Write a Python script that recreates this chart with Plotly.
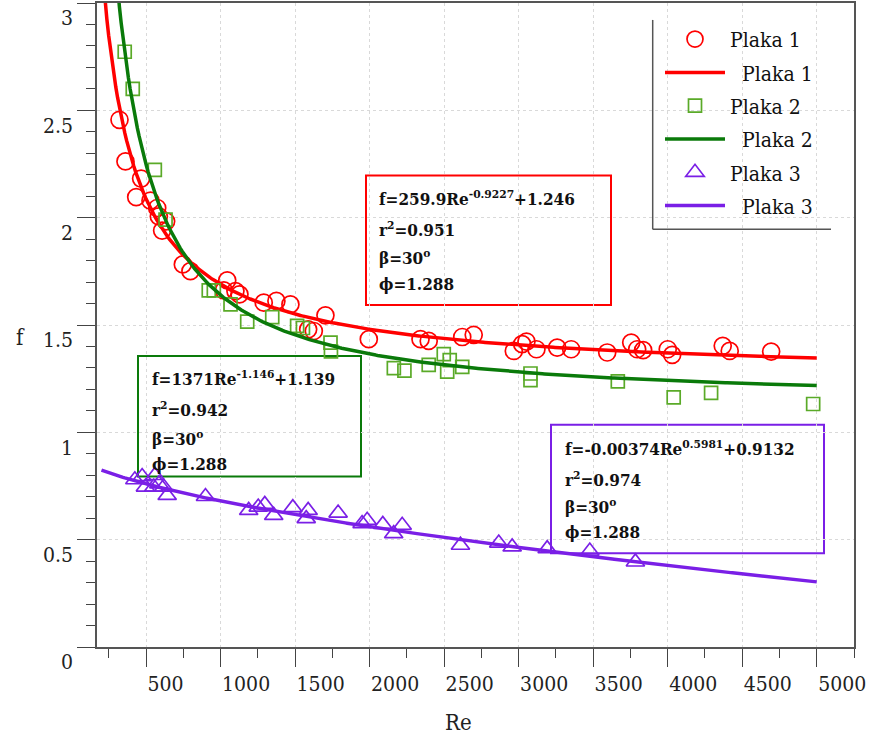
import numpy as np
import plotly.graph_objects as go

# Measured friction factor f against Reynolds number Re for three plates
re_p1 = [321, 361, 466, 433, 529, 574, 585, 634, 607, 746, 797, 1044, 1021, 1099, 1126,
         1289, 1374, 1468, 1703, 1625, 1587, 1994, 2341, 2396, 2621, 2698, 2967, 3023,
         3052, 3119, 3258, 3352, 3594, 3755, 3795, 3835, 4000, 4030, 4369, 4416, 4694]
f_p1 = [2.456, 2.262, 2.182, 2.096, 2.079, 2.045, 2.006, 1.983, 1.940, 1.782, 1.751, 1.708,
        1.661, 1.658, 1.643, 1.604, 1.612, 1.596, 1.545, 1.472, 1.480, 1.434, 1.434, 1.426,
        1.444, 1.454, 1.379, 1.411, 1.423, 1.387, 1.395, 1.387, 1.372, 1.418, 1.387, 1.383,
        1.387, 1.361, 1.403, 1.379, 1.376]

re_p2 = [356, 410, 558, 630, 920, 954, 1066, 1178, 1346, 1513, 1552, 1737, 1740, 2162,
         2233, 2396, 2497, 2537, 2520, 2621, 3079, 3079, 3665, 4040, 4291, 4976]
f_p2 = [2.773, 2.600, 2.223, 1.991, 1.661, 1.661, 1.596, 1.516, 1.537, 1.496, 1.486, 1.418,
        1.377, 1.299, 1.287, 1.314, 1.364, 1.336, 1.283, 1.305, 1.274, 1.243, 1.237, 1.163,
        1.184, 1.132]

re_p3 = [424, 473, 495, 558, 551, 585, 618, 641, 898, 1188, 1252, 1296, 1356, 1484, 1574,
         1587, 1788, 1949, 1983, 2088, 2161, 2218, 2609, 2866, 2956, 3191, 3477, 3783]
f_p3 = [0.779, 0.794, 0.745, 0.799, 0.745, 0.760, 0.745, 0.706, 0.701, 0.636, 0.652, 0.664,
        0.613, 0.649, 0.598, 0.636, 0.624, 0.575, 0.590, 0.571, 0.528, 0.567, 0.474, 0.484,
        0.466, 0.458, 0.447, 0.396]

# Fitted correlations f = a * Re^b + c
fit_p1 = (259.9, -0.9227, 1.246)
fit_p2 = (1371.0, -1.146, 1.139)
fit_p3 = (-0.00374, 0.5981, 0.9132)

# Text of the three correlation boxes
box_p1 = ["f=259.9Re<sup>-0.9227</sup>+1.246", "r<sup>2</sup>=0.951", "β=30<sup>o</sup>", "ϕ=1.288"]
box_p2 = ["f=1371Re<sup>-1.146</sup>+1.139", "r<sup>2</sup>=0.942", "β=30<sup>o</sup>", "ϕ=1.288"]
box_p3 = ["f=-0.00374Re<sup>0.5981</sup>+0.9132", "r<sup>2</sup>=0.974", "β=30<sup>o</sup>", "ϕ=1.288"]

x_ticks = [500, 1000, 1500, 2000, 2500, 3000, 3500, 4000, 4500, 5000]
y_ticks = [0, 0.5, 1, 1.5, 2, 2.5, 3]

RED = "#ff0000"
GREEN_PT = "#5aaa28"
GREEN_LN = "#0a7a0a"
PURPLE = "#7a1fe6"
SERIF = "DejaVu Serif Condensed, DejaVu Serif"

# plot-area geometry in pixels (for placing paper-referenced items)
W, H = 873, 742
ML, MR, MT, MB = 97, 19, 1, 95
PW, PH = W - ML - MR, H - MT - MB


def px(x):
    return (x - ML) / PW


def py(y):
    return (H - MB - y) / PH


re_fit = np.linspace(200, 5000, 400)


def fit_curve(p):
    a, b, c = p
    return a * re_fit ** b + c


fig = go.Figure()

series = [
    ("Plaka 1", re_p1, f_p1, fit_p1, "circle-open", 17, RED, RED),
    ("Plaka 2", re_p2, f_p2, fit_p2, "square-open", 13, GREEN_PT, GREEN_LN),
    ("Plaka 3", re_p3, f_p3, fit_p3, "triangle-up-open", 16, PURPLE, PURPLE),
]

for i, (name, xs, ys, fit, sym, size, pcol, lcol) in enumerate(series):
    fig.add_trace(go.Scatter(
        x=xs, y=ys, mode="markers", name=name, legendgroup=f"m{i}",
        marker=dict(symbol=sym, size=size, color=pcol, line=dict(color=pcol, width=1.7)),
    ))
    fig.add_trace(go.Scatter(
        x=re_fit, y=fit_curve(fit), mode="lines", name="\u00a0\u00a0" + name,
        legendgroup=f"l{i}", line=dict(color=lcol, width=3.5),
    ))

axis_common = dict(
    showline=True, linecolor="#555555", linewidth=1.5, mirror=True,
    ticks="outside", ticklen=18, tickwidth=1.3, tickcolor="#444444",
    showgrid=True, gridcolor="#d9d9d9", griddash="dot", gridwidth=1,
    zeroline=False,
    tickfont=dict(family=SERIF, size=21, color="#222222"),
)

fig.update_xaxes(
    range=[170, 5250], tickvals=x_ticks, ticktext=[str(v) for v in x_ticks],
    ticklabelposition="outside right", ticklabelstandoff=17,
    minor=dict(dtick=250, tick0=0, ticklen=9, tickwidth=1.3, tickcolor="#444444",
               ticks="outside", showgrid=False),
    **axis_common,
)
fig.update_yaxes(
    range=[0, 3], tickvals=y_ticks, ticktext=[f"{v:g}" for v in y_ticks],
    ticklabelshift=15,
    minor=dict(dtick=0.1, tick0=0, ticklen=9, tickwidth=1.3, tickcolor="#444444",
               ticks="outside", showgrid=False),
    **axis_common,
)


def eq_box(x0, y0, x1, y1, text_x, line_ys, lines, color):
    fig.add_shape(type="rect", xref="paper", yref="paper",
                  x0=px(x0), x1=px(x1), y0=py(y1), y1=py(y0),
                  fillcolor="white", line=dict(color=color, width=2), layer="between")
    for ly, t in zip(line_ys, lines):
        fig.add_annotation(
            xref="paper", yref="paper", x=px(text_x), y=py(ly),
            xanchor="left", yanchor="middle", text=f"<b>{t}</b>",
            showarrow=False, font=dict(family=SERIF, size=17, color="#111111"),
        )


eq_box(366, 174, 611, 304, 377, [197, 228, 256, 283], box_p1, RED)
eq_box(138, 355, 361, 476, 150, [377, 408, 437, 463], box_p2, GREEN_LN)
eq_box(551, 424, 824, 553, 563, [447, 478, 506, 532], box_p3, PURPLE)

# axis titles
fig.add_annotation(xref="paper", yref="paper", x=px(20), y=py(337), text="f",
                   xanchor="center", yanchor="middle", showarrow=False,
                   font=dict(family=SERIF, size=22, color="#222222"))
fig.add_annotation(xref="paper", yref="paper", x=px(458), y=py(723), text="Re",
                   xanchor="center", yanchor="middle", showarrow=False,
                   font=dict(family=SERIF, size=22, color="#222222"))

# legend panel: white backing with left and bottom edges
lg_x0, lg_x1, lg_y0, lg_y1 = px(652.7), px(831), py(228), py(18)
fig.add_shape(type="rect", xref="paper", yref="paper", x0=lg_x0, x1=lg_x1, y0=lg_y0, y1=lg_y1,
              fillcolor="white", line=dict(width=0), layer="between")
fig.add_shape(type="line", xref="paper", yref="paper", x0=lg_x0, x1=lg_x0, y0=lg_y0, y1=lg_y1,
              line=dict(color="#555555", width=1.5), layer="above")
fig.add_shape(type="line", xref="paper", yref="paper", x0=lg_x0, x1=lg_x1, y0=lg_y0, y1=lg_y0,
              line=dict(color="#555555", width=1.5), layer="above")

fig.update_layout(
    width=W, height=H,
    margin=dict(l=ML, r=MR, t=MT, b=MB),
    paper_bgcolor="white", plot_bgcolor="white",
    showlegend=True,
    legend=dict(
        x=px(660), y=py(17), xanchor="left", yanchor="top",
        bgcolor="rgba(0,0,0,0)", borderwidth=0,
        font=dict(family=SERIF, size=21, color="#111111"),
        itemwidth=60, tracegroupgap=3,
    ),
)

fig.write_html("out.html")
